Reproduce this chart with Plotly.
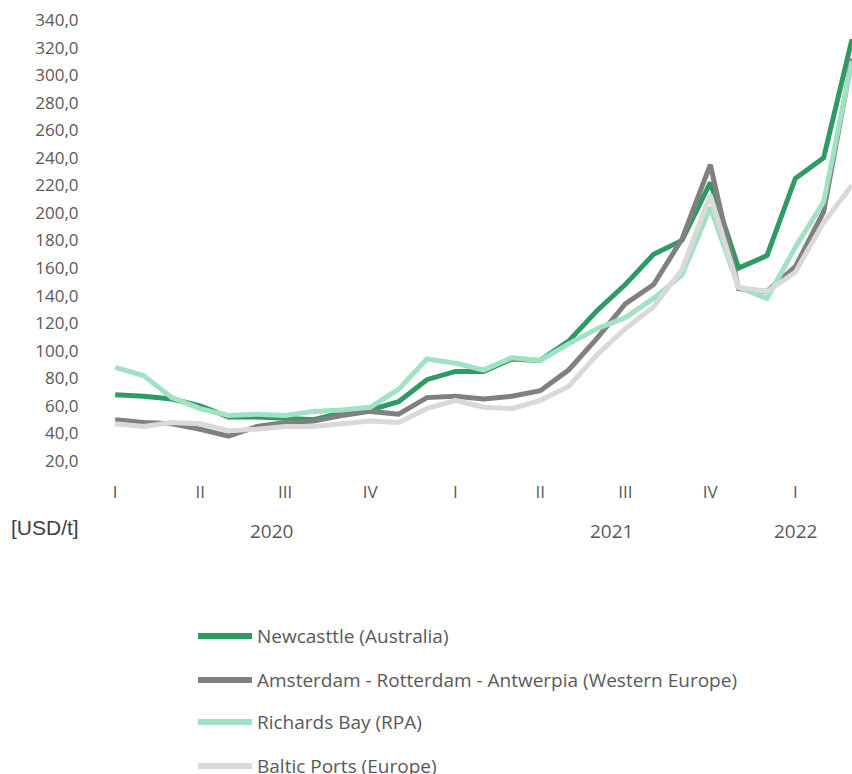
import plotly.graph_objects as go

# Monthly coal prices, Jan 2020 - Mar 2022 (USD per tonne)
months = list(range(27))

newcastle = [68, 67, 65, 60, 52, 52, 51, 50, 55, 57, 63, 79,
             85, 85, 94, 93, 107, 129, 148, 170, 180, 222, 160, 169,
             225, 240, 326]
ara = [50, 48, 47, 43, 38, 45, 48, 49, 53, 56, 54, 66,
       67, 65, 67, 71, 86, 109, 134, 148, 181, 235, 145, 143,
       161, 201, 312]
richards_bay = [88, 82, 66, 58, 53, 54, 53, 56, 57, 59, 72, 94,
                91, 86, 95, 93, 105, 116, 124, 138, 155, 204, 146, 138,
                175, 208, 310]
baltic = [47, 45, 48, 47, 42, 43, 45, 45, 47, 49, 48, 58,
          64, 59, 58, 64, 74, 97, 116, 132, 159, 213, 146, 143,
          157, 193, 220]

series_names = [
    "Newcasttle (Australia)",
    "Amsterdam - Rotterdam - Antwerpia (Western Europe)",
    "Richards Bay (RPA)",
    "Baltic Ports (Europe)",
]
series_values = [newcastle, ara, richards_bay, baltic]
colors = ["#2E9B63", "#808080", "#A0E2C3", "#D9D9D9"]

quarter_pos = [0, 3, 6, 9, 12, 15, 18, 21, 24]
quarter_text = ["I", "II", "III", "IV", "I", "II", "III", "IV", "I"]
year_pos = [5.5, 17.5, 24]
year_text = ["2020", "2021", "2022"]
unit_label = "[USD/t]"

# page geometry (px)
FIG_W, FIG_H = 852, 774
L, T = 101, 20
W, H = 751, 441
B = FIG_H - T - H

FONT = "Open Sans"
GREY = "#595959"

fig = go.Figure()
for name, vals, col in zip(series_names, series_values, colors):
    fig.add_trace(go.Scatter(
        x=months, y=vals, name=name, mode="lines",
        line=dict(color=col, width=5),
        showlegend=False,
    ))


def px_x(px):
    return (px - L) / W


def px_y(py):
    return (T + H - py) / H


shapes = []
annotations = []

# legend drawn below the plot
legend_y = [636, 680, 722, 766]
for name, col, ly in zip(series_names, colors, legend_y):
    shapes.append(dict(
        type="line", xref="paper", yref="paper",
        x0=px_x(198), x1=px_x(252), y0=px_y(ly), y1=px_y(ly),
        line=dict(color=col, width=6),
    ))
    annotations.append(dict(
        xref="paper", yref="paper", x=px_x(255), y=px_y(ly),
        text=name, showarrow=False, xanchor="left", yanchor="middle",
        font=dict(family=FONT, size=19, color=GREY),
    ))

# year labels under the quarter ticks
for xp, txt in zip(year_pos, year_text):
    annotations.append(dict(
        xref="x", yref="paper", x=xp, y=px_y(531),
        text=txt, showarrow=False, xanchor="center", yanchor="middle",
        font=dict(family=FONT, size=19, color=GREY),
    ))

annotations.append(dict(
    xref="paper", yref="paper", x=px_x(45), y=px_y(527),
    text=unit_label, showarrow=False, xanchor="center", yanchor="middle",
    font=dict(family="Liberation Sans", size=21, color="#404040"),
))

fig.update_layout(
    width=FIG_W, height=FIG_H,
    margin=dict(l=L, r=FIG_W - L - W, t=T, b=B),
    paper_bgcolor="white", plot_bgcolor="white",
    separators=", ",
    shapes=shapes, annotations=annotations,
    showlegend=False,
    font=dict(family=FONT, size=17, color=GREY),
)
fig.update_xaxes(
    range=[-0.5, 26], tickvals=quarter_pos, ticktext=quarter_text,
    showgrid=False, zeroline=False, showline=False,
    ticks="outside", ticklen=16, tickcolor="rgba(0,0,0,0)",
    tickfont=dict(family=FONT, size=17, color=GREY),
)
fig.update_yaxes(
    range=[20, 340], tick0=20, dtick=20, tickformat=".1f",
    showgrid=False, zeroline=False, showline=False,
    ticks="outside", ticklen=18, tickcolor="rgba(0,0,0,0)",
    tickfont=dict(family=FONT, size=17, color=GREY),
)

fig.write_html("out.html")
